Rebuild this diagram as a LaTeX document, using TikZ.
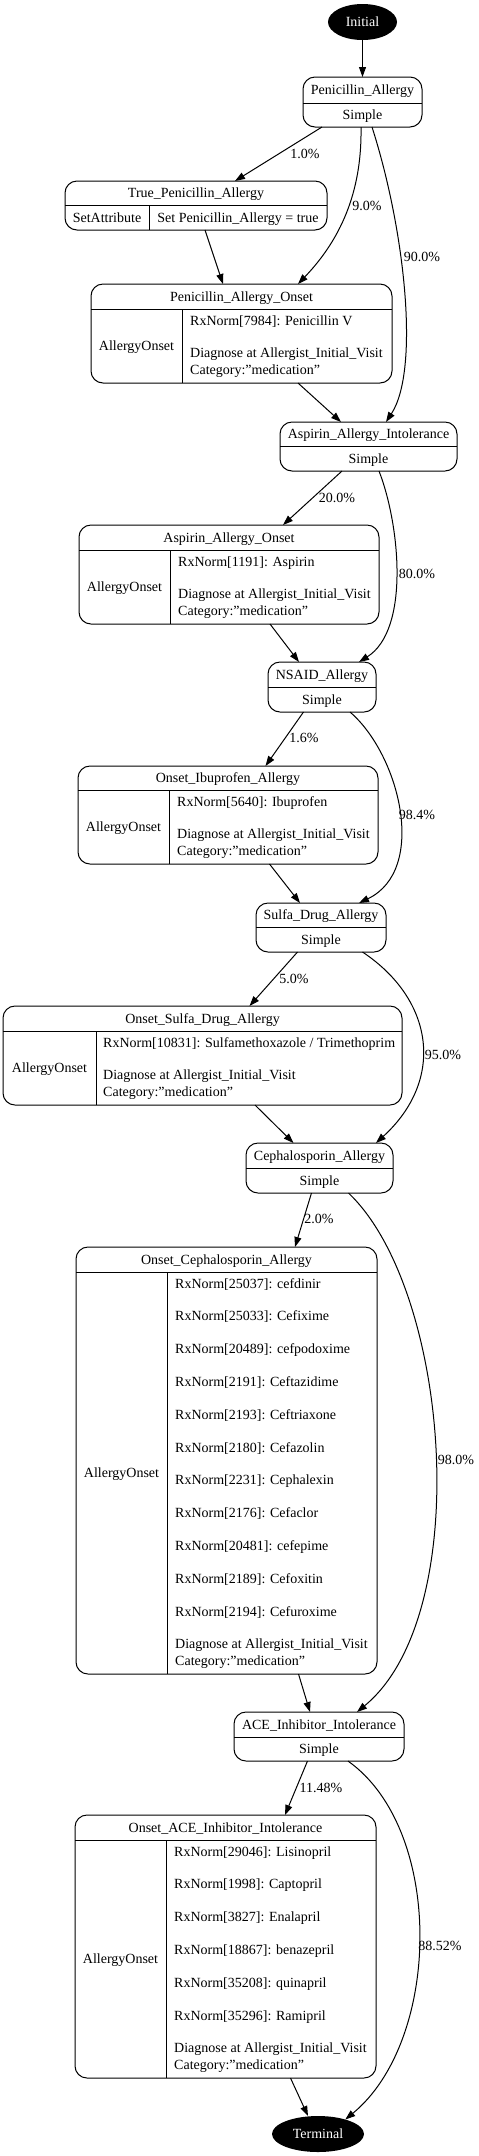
\documentclass[tikz,border=0pt]{standalone}
\usepackage{fontspec}
\setmainfont{Liberation Serif}
\usepackage{tikz}
\usetikzlibrary{arrows.meta,calc,fit,shapes.geometric}
\newcommand{\recfont}{\fontsize{14bp}{16.8bp}\selectfont}
\tikzset{
  >={Triangle[length=10bp,width=7bp]},
  rec/.style={draw,line width=1bp,rounded corners=12bp,inner sep=0pt,outer sep=0pt},
  sep/.style={draw,line width=1bp},
  txt/.style={font=\recfont,inner sep=0pt,anchor=base,yshift=-4.5bp},
  drug/.style={font=\recfont,inner sep=0pt,anchor=base west},
  endpt/.style={ellipse,fill=black,text=white,font=\recfont,inner sep=0pt,outer sep=0pt,minimum height=36bp},
  ptr/.style={->,line width=1bp},
}
% name, left, top, right, bottom, divider, title
\newcommand{\simplestate}[7]{%
  \node[rec,fit={(#2,#3) (#4,#5)}] (#1) {};
  \draw[sep] (#2,#6) -- (#4,#6);
  \node[txt] at ($(#2,#3)!0.5!(#4,#6)$) {#7};
  \node[txt] at ($(#2,#6)!0.5!(#4,#5)$) {Simple};}
% [left cell], name, left, top, right, bottom, divider, column, title
\newcommand{\onsetstate}[9][AllergyOnset]{%
  \node[rec,fit={(#3,#4) (#5,#6)}] (#2) {};
  \draw[sep] (#3,#7) -- (#5,#7) (#8,#7) -- (#8,#6);
  \node[txt] at ($(#3,#4)!0.5!(#5,#7)$) {#9};
  \node[txt] at ($(#3,#7)!0.5!(#8,#6)$) {#1};}
\newcommand{\druglist}[3]{%
  \foreach \rx [count=\k from 0] in {#3} \node[drug] at (#1,#2+16.4*\k) {\rx};}

\begin{document}
\begin{tikzpicture}[x=1bp,y=-1bp]
  \useasboundingbox (0,0) rectangle (479,2156);
  \node[endpt,minimum width=69bp] (init) at (362.5,22) {Initial};
  \simplestate{pa}{303}{77}{422}{127}{103}{Penicillin\_Allergy}
  \onsetstate[SetAttribute]{tpa}{65}{181}{327}{230}{205}{149}{True\_Penicillin\_Allergy}
  \node[txt] at (238,217.5) {Set Penicillin\_Allergy = true};
  \onsetstate{pao}{91}{284}{392}{383}{309}{182}{Penicillin\_Allergy\_Onset}
  \druglist{190}{325}{RxNorm[7984]: Penicillin V,{},Diagnose at Allergist\_Initial\_Visit,Category:"medication"}
  \simplestate{aai}{280}{422}{457}{471}{446}{Aspirin\_Allergy\_Intolerance}
  \onsetstate{aao}{79}{525}{379}{624}{550}{170}{Aspirin\_Allergy\_Onset}
  \druglist{178}{566}{RxNorm[1191]: Aspirin,{},Diagnose at Allergist\_Initial\_Visit,Category:"medication"}
  \simplestate{nsaid}{268}{662}{376}{712}{687}{NSAID\_Allergy}
  \onsetstate{oia}{78}{766}{378}{864}{790}{169}{Onset\_Ibuprofen\_Allergy}
  \druglist{177}{806}{RxNorm[5640]: Ibuprofen,{},Diagnose at Allergist\_Initial\_Visit,Category:"medication"}
  \simplestate{sulfa}{256}{903}{386}{952}{927}{Sulfa\_Drug\_Allergy}
  \onsetstate{osda}{3}{1006}{402}{1105}{1031}{96}{Onset\_Sulfa\_Drug\_Allergy}
  \druglist{103}{1047}{RxNorm[10831]: Sulfamethoxazole / Trimethoprim,{},Diagnose at Allergist\_Initial\_Visit,Category:"medication"}
  \simplestate{ceph}{246}{1143}{393}{1193}{1168}{Cephalosporin\_Allergy}
  \onsetstate{oca}{76}{1247}{377}{1674}{1272}{167}{Onset\_Cephalosporin\_Allergy}
  \druglist{175}{1288}{RxNorm[25037]: cefdinir,{},RxNorm[25033]: Cefixime,{},RxNorm[20489]: cefpodoxime,{},
    RxNorm[2191]: Ceftazidime,{},RxNorm[2193]: Ceftriaxone,{},RxNorm[2180]: Cefazolin,{},
    RxNorm[2231]: Cephalexin,{},RxNorm[2176]: Cefaclor,{},RxNorm[20481]: cefepime,{},
    RxNorm[2189]: Cefoxitin,{},RxNorm[2194]: Cefuroxime,{},Diagnose at Allergist\_Initial\_Visit,Category:"medication"}
  \simplestate{ace}{234}{1712}{404}{1761}{1737}{ACE\_Inhibitor\_Intolerance}
  \onsetstate{oaii}{75}{1815}{376}{2078}{1840}{166}{Onset\_ACE\_Inhibitor\_Intolerance}
  \druglist{174}{1856}{RxNorm[29046]: Lisinopril,{},RxNorm[1998]: Captopril,{},RxNorm[3827]: Enalapril,{},
    RxNorm[18867]: benazepril,{},RxNorm[35208]: quinapril,{},RxNorm[35296]: Ramipril,{},
    Diagnose at Allergist\_Initial\_Visit,Category:"medication"}
  \node[endpt,minimum width=92bp] (term) at (318,2134) {Terminal};

  \draw[ptr] (init) -- (pa);
  \draw[ptr] ([xshift=-40.5bp]pa.south) -- ([xshift=39bp]tpa.north);
  \node[txt] at (305,154) {1.0\%};
  \draw[ptr] ([xshift=-1.5bp]pa.south) .. controls +(1,58) and +(47,-49) .. ([xshift=56.5bp]pao.north);
  \node[txt] at (367,206) {9.0\%};
  \draw[ptr] ([xshift=9.5bp]pa.south) .. controls +(33,103) and +(34,-52) .. ([xshift=17.5bp]aai.north);
  \node[txt] at (422,257) {90.0\%};
  \draw[ptr] ([xshift=9bp]tpa.south) -- ([xshift=-18.5bp]pao.north);
  \draw[ptr] ([xshift=56.5bp]pao.south) -- ([xshift=-27.5bp]aai.north);
  \draw[ptr] ([xshift=-26.5bp]aai.south) -- ([xshift=54bp]aao.north);
  \node[txt] at (337,498) {20.0\%};
  \draw[ptr] ([xshift=10.5bp]aai.south) .. controls +(21,54) and +(51,-32) .. ([xshift=37bp]nsaid.north);
  \node[txt] at (417,574) {80.0\%};
  \draw[ptr] ([xshift=41bp]aao.south) -- ([xshift=-23bp]nsaid.north);
  \draw[ptr] ([xshift=-18.5bp]nsaid.south) -- ([xshift=37.5bp]oia.north);
  \node[txt] at (304,738) {1.6\%};
  \draw[ptr] ([xshift=28bp]nsaid.south) .. controls +(50,43) and +(69,-33) .. ([xshift=38bp]sulfa.north);
  \node[txt] at (417,815) {98.4\%};
  \draw[ptr] ([xshift=41.5bp]oia.south) -- ([xshift=-21bp]sulfa.north);
  \draw[ptr] ([xshift=-23.5bp]sulfa.south) -- ([xshift=47bp]osda.north);
  \node[txt] at (294,979) {5.0\%};
  \draw[ptr] ([xshift=41.5bp]sulfa.south) .. controls +(72,48) and +(69,-63) .. ([xshift=56.5bp]ceph.north);
  \node[txt] at (443,1055) {95.0\%};
  \draw[ptr] ([xshift=52.5bp]osda.south) -- ([xshift=-26bp]ceph.north);
  \draw[ptr] ([xshift=-8bp]ceph.south) -- ([xshift=68.5bp]oca.north);
  \node[txt] at (319,1219) {2.0\%};
  \draw[ptr] ([xshift=29bp]ceph.south) .. controls +(102,97) and +(118,-97) .. ([xshift=38bp]ace.north);
  \node[txt] at (456,1460) {98.0\%};
  \draw[ptr] ([xshift=72bp]oca.south) -- ([xshift=-9bp]ace.north);
  \draw[ptr] ([xshift=-11.5bp]ace.south) -- ([xshift=59.5bp]oaii.north);
  \node[txt] at (321,1788) {11.48\%};
  \draw[ptr] ([xshift=29bp]ace.south) .. controls +(97,69) and +(96,-79) .. (term.28);
  \node[txt] at (440,1946) {88.52\%};
  \draw[ptr] ([xshift=65bp]oaii.south) -- ([xshift=-10bp]term.north);
\end{tikzpicture}
\end{document}
